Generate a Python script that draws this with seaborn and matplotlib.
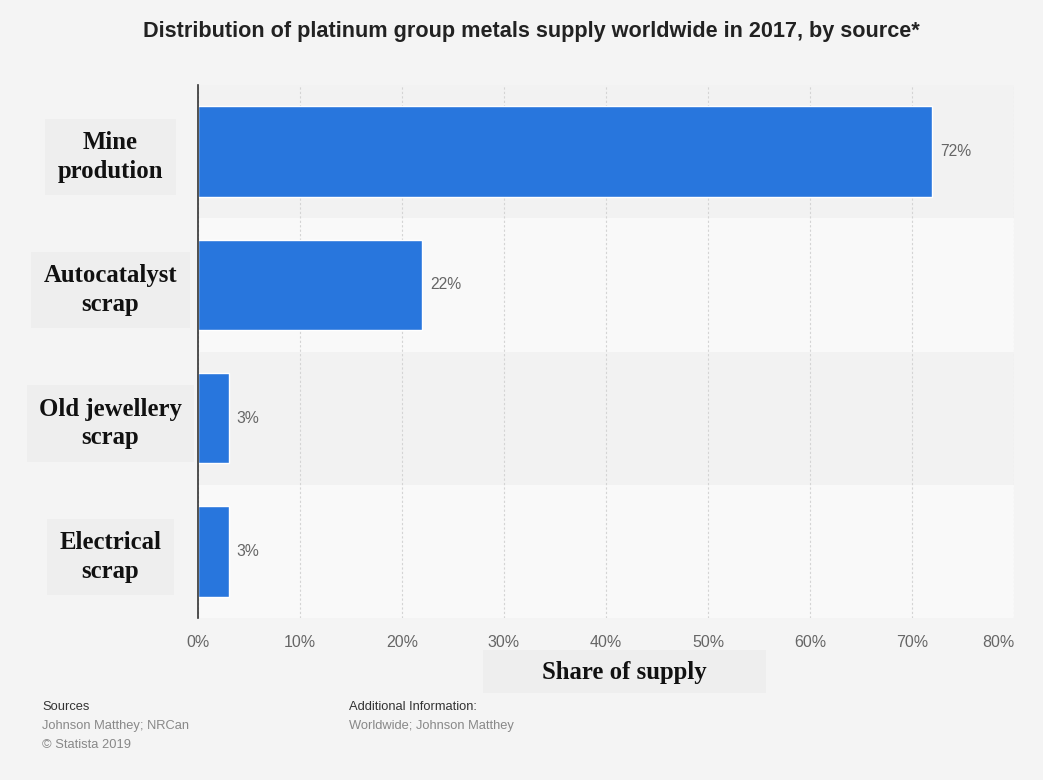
import matplotlib
matplotlib.use("Agg")
import matplotlib.pyplot as plt
from matplotlib.patches import Rectangle
import seaborn as sns
import pandas as pd

# Supply sources and their share of the total (percent)
sources = ["Mine\nprodution", "Autocatalyst\nscrap", "Old jewellery\nscrap", "Electrical\nscrap"]
shares = [72, 22, 3, 3]
x_ticks = [0, 10, 20, 30, 40, 50, 60, 70, 80]
x_tick_labels = ["0%", "10%", "20%", "30%", "40%", "50%", "60%", "70%", "80%"]

df = pd.DataFrame({"source": sources, "share": shares})

sns.set_theme(style="white")
plt.rcParams["font.family"] = ["Liberation Sans", "DejaVu Sans"]

bg = "#f4f4f4"
serif = ["Liberation Serif", "DejaVu Serif"]
fig = plt.figure(figsize=(10.43, 7.8), dpi=100, facecolor=bg)
ax = fig.add_axes([198 / 1043, 1 - 618 / 780, (1014 - 198) / 1043, (618 - 85) / 780])
ax.set_facecolor(bg)

# Alternating row bands
for i in range(len(sources)):
    ax.axhspan(i - 0.5, i + 0.5, color="#f2f2f2" if i % 2 == 0 else "#f9f9f9", zorder=0, lw=0)

sns.barplot(data=df, x="share", y="source", orient="h", color="#2876dd",
            saturation=1, width=0.68, ax=ax, zorder=3)

ax.set_xlim(x_ticks[0], x_ticks[-1])
ax.set_ylim(len(sources) - 0.5, -0.5)
ax.set_xticks(x_ticks, x_tick_labels)
ax.grid(axis="x", color="#d4d4d4", linestyle=(0, (2, 2)), linewidth=0.8, zorder=1)
ax.grid(axis="y", visible=False)

for side in ["top", "right", "bottom"]:
    ax.spines[side].set_visible(False)
ax.spines["left"].set_color("#333333")
ax.spines["left"].set_linewidth(1.2)
ax.spines["left"].set_zorder(4)

ax.tick_params(axis="x", length=0, pad=12, labelsize=11.5, labelcolor="#666666")
ax.get_xticklabels()[-1].set_horizontalalignment("right")

ax.tick_params(axis="y", length=0, pad=63)
for lab in ax.get_yticklabels():
    lab.set_fontfamily(serif)
    lab.set_fontweight("bold")
    lab.set_fontsize(17.8)
    lab.set_color("#111111")
    lab.set_horizontalalignment("center")
    lab.set_linespacing(1.32)
    lab.set_bbox(dict(boxstyle="square,pad=0.5", facecolor="#eeeeee", edgecolor="none"))

# Value labels at the end of each bar
for i, v in enumerate(shares):
    ax.text(v + 0.8, i, f"{v}%", va="center", ha="left", fontsize=11.3, color="#666666", zorder=5)

ax.set_xlabel("")
ax.set_ylabel("")

# Axis title with its shaded box
fig.patches.append(Rectangle((483 / 1043, 1 - 693 / 780), (766 - 483) / 1043, 43 / 780,
                             transform=fig.transFigure, facecolor="#eeeeee", edgecolor="none"))
fig.text(624 / 1043, 1 - 673 / 780, "Share of supply", ha="center", va="center",
         fontsize=17.8, fontweight="bold", family=serif, color="#111111")

fig.text(531 / 1043, 1 - 31 / 780, "Distribution of platinum group metals supply worldwide in 2017, by source*",
         ha="center", va="center", fontsize=15.6, fontweight="bold", color="#222222")

# Footer notes
fig.text(42 / 1043, 1 - 707 / 780, "Sources", fontsize=9.3, color="#333333", va="center")
fig.text(42 / 1043, 1 - 726 / 780, "Johnson Matthey; NRCan", fontsize=9.3, color="#888888", va="center")
fig.text(42 / 1043, 1 - 745 / 780, "\u00a9 Statista 2019", fontsize=9.3, color="#888888", va="center")
fig.text(349 / 1043, 1 - 707 / 780, "Additional Information:", fontsize=9.3, color="#333333", va="center")
fig.text(349 / 1043, 1 - 726 / 780, "Worldwide; Johnson Matthey", fontsize=9.3, color="#888888", va="center")

fig.savefig("out.png", dpi=100, facecolor=bg)
